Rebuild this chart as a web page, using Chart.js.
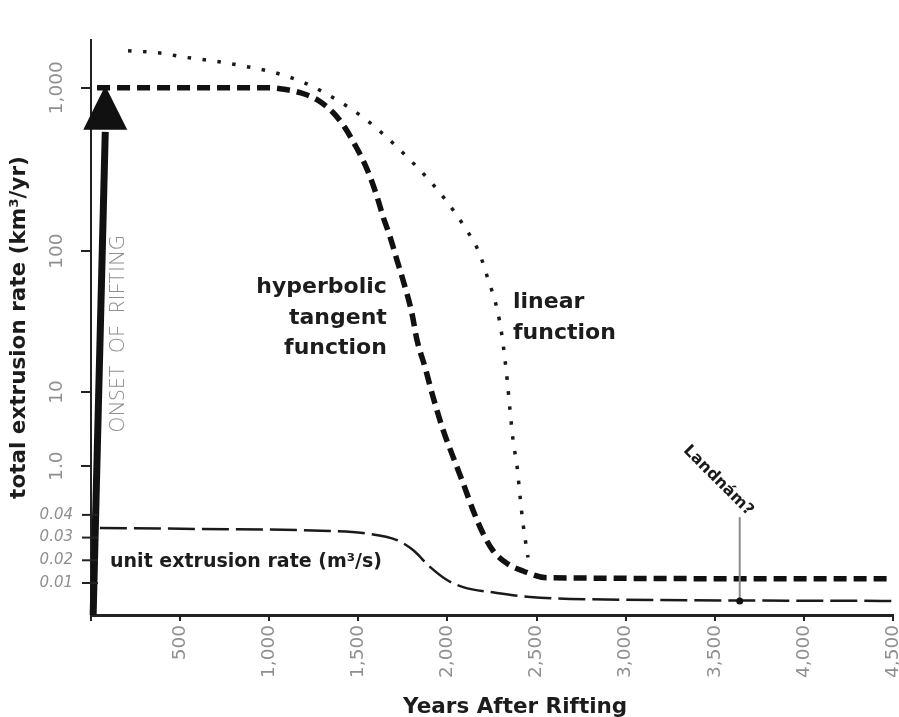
<!DOCTYPE html>
<html>
<head>
<meta charset="utf-8">
<title>Extrusion rate after rifting</title>
<script src="https://cdn.jsdelivr.net/npm/chart.js@4.4.1/dist/chart.umd.min.js"></script>
<style>
  body { margin: 0; background: #fff; }
  canvas { display: block; }
</style>
</head>
<body>
<canvas id="riftChart" width="899" height="717"></canvas>
<script>
// Tasa de extrusion despues del rifting - valores leidos de la figura
// curva tangente hiperbolica (km3/yr)
const hyperYears = [34, 1000, 1061, 1173, 1268, 1358, 1425, 1482, 1526, 1566, 1605, 1639, 1678, 1717, 1751, 1801, 1829, 1874, 1919, 1975, 2032, 2088, 2144, 2200, 2256, 2335, 2424, 2559, 4500];
const hyperRates = [1000, 1000, 986, 932, 845, 705, 570, 445, 360, 285, 215, 162, 122, 86, 62, 36, 23.4, 15, 8.6, 3.1, 1.32, 0.59, 0.254, 0.124, 0.073, 0.049, 0.039, 0.0316, 0.0306];
// funcion lineal (km3/yr)
const linearYears = [208, 376, 539, 707, 864, 1021, 1184, 1257, 1397, 1538, 1661, 1779, 1891, 1998, 2093, 2177, 2228, 2278, 2307, 2335, 2351, 2368, 2391, 2408, 2424, 2452];
const linearRates = [1710, 1660, 1550, 1465, 1365, 1255, 1090, 1000, 820, 645, 495, 372, 277, 200, 142, 98, 63, 39, 24.5, 12.2, 5.7, 2.24, 0.97, 0.38, 0.17, 0.059];
// tasa unitaria (m3/s)
const unitYears = [50, 612, 1341, 1526, 1717, 1807, 1902, 1998, 2088, 2278, 2464, 2688, 4500];
const unitRates = [0.0342, 0.0338, 0.0329, 0.0320, 0.0289, 0.0245, 0.0171, 0.0113, 0.0082, 0.0056, 0.0038, 0.0030, 0.0021];

// ejes
const rateTicks = [1, 10, 100, 1000];
const rateTickLabels = ['1.0', '10', '100', '1,000'];
const unitTicks = [0.04, 0.03, 0.02, 0.01];
const unitTickLabels = ['0.04', '0.03', '0.02', '0.01'];

// anotaciones
const onsetYears = [12, 80];       // base y punta de la flecha
const onsetRates = [552, 1000];    // base de la cabeza y punta
const landnamYear = 3640;
const landnamUnit = [0.039, 0.0021];

const boldFont = '"DejaVu Sans", sans-serif';
const tickFont = '"DejaVu Sans", sans-serif';
const lightFont = '"Open Sans", sans-serif';
const grayText = '#8f8f8f';
const darkText = '#1c1c1c';

// escala logaritmica por tramos (el eje original no es uniforme)
class SegmentLogScale extends Chart.LinearScale {
  static id = 'segmentlog';
  determineDataLimits() {
    this.min = this.options.min;
    this.max = this.options.max;
  }
  buildTicks() {
    return this.options.tickValues.map(v => ({ value: v }));
  }
  decimalFor(value) {
    const logs = this.options.anchorLogs;
    const decs = this.options.anchorDecimals;
    const l = Math.log10(Math.max(value, 1e-9));
    let i = 0;
    while (i < logs.length - 2 && l > logs[i + 1]) i++;
    const t = (l - logs[i]) / (logs[i + 1] - logs[i]);
    return decs[i] + t * (decs[i + 1] - decs[i]);
  }
  getPixelForValue(value) {
    if (value === null || value === undefined || isNaN(value)) return NaN;
    return this.getPixelForDecimal(this.decimalFor(value));
  }
  getValueForPixel(pixel) {
    const d = this.getDecimalForPixel(pixel);
    const logs = this.options.anchorLogs;
    const decs = this.options.anchorDecimals;
    let i = 0;
    while (i < decs.length - 2 && d > decs[i + 1]) i++;
    const t = (d - decs[i]) / (decs[i + 1] - decs[i]);
    return Math.pow(10, logs[i] + t * (logs[i + 1] - logs[i]));
  }
}
Chart.register(SegmentLogScale);

function toPoints(xs, ys) {
  return xs.map((x, i) => ({ x: x, y: ys[i] }));
}

const annotations = {
  id: 'annotations',
  afterDatasetsDraw(chart) {
    const { ctx, chartArea, scales } = chart;
    const x = scales.x, y = scales.y, y2 = scales.y2;
    ctx.save();

    // flecha "onset of rifting"
    const baseX = x.getPixelForValue(onsetYears[0]);
    const tipX = x.getPixelForValue(onsetYears[1]);
    const headY = y.getPixelForValue(onsetRates[0]);
    const tipY = y.getPixelForValue(onsetRates[1]);
    ctx.strokeStyle = '#111';
    ctx.lineWidth = 7;
    ctx.beginPath();
    ctx.moveTo(baseX, chartArea.bottom);
    ctx.lineTo(tipX, headY + 2);
    ctx.stroke();
    ctx.fillStyle = '#111';
    ctx.beginPath();
    ctx.moveTo(tipX, tipY - 2);
    ctx.lineTo(tipX - 22, headY);
    ctx.lineTo(tipX + 22, headY);
    ctx.closePath();
    ctx.fill();

    // ONSET OF RIFTING
    ctx.save();
    ctx.translate(x.getPixelForValue(152), y.getPixelForValue(26));
    ctx.rotate(-Math.PI / 2);
    ctx.fillStyle = grayText;
    ctx.font = '300 20px ' + lightFont;
    ctx.letterSpacing = '1px';
    ctx.textAlign = 'center';
    ctx.textBaseline = 'middle';
    ctx.fillText('ONSET  OF  RIFTING', 0, 0);
    ctx.restore();

    // Landnam
    const lx = x.getPixelForValue(landnamYear);
    const lTop = y2.getPixelForValue(landnamUnit[0]);
    const lBot = y2.getPixelForValue(landnamUnit[1]);
    ctx.strokeStyle = '#8c8c8c';
    ctx.lineWidth = 2;
    ctx.beginPath();
    ctx.moveTo(lx, lTop);
    ctx.lineTo(lx, lBot);
    ctx.stroke();
    ctx.fillStyle = '#111';
    ctx.beginPath();
    ctx.arc(lx, lBot, 3.5, 0, Math.PI * 2);
    ctx.fill();
    ctx.save();
    ctx.translate(lx + 11, lTop - 4);
    ctx.rotate(Math.PI / 4);
    ctx.font = 'bold 16px ' + boldFont;
    ctx.fillStyle = darkText;
    ctx.textAlign = 'right';
    ctx.textBaseline = 'middle';
    ctx.fillText('Landnám?', 0, 0);
    ctx.restore();

    // etiquetas de las curvas
    ctx.font = 'bold 22px ' + boldFont;
    ctx.fillStyle = darkText;
    ctx.textBaseline = 'middle';
    ctx.textAlign = 'right';
    const hx = x.getPixelForValue(1660), hy = y.getPixelForValue(55);
    ['hyperbolic', 'tangent', 'function'].forEach((t, i) => ctx.fillText(t, hx, hy + i * 30.5));
    ctx.textAlign = 'left';
    const fx = x.getPixelForValue(2368), fy = y.getPixelForValue(43.5);
    ['linear', 'function'].forEach((t, i) => ctx.fillText(t, fx, fy + i * 31));
    ctx.font = 'bold 19px ' + boldFont;
    ctx.fillText('unit extrusion rate (m³/s)', x.getPixelForValue(107), y2.getPixelForValue(0.0193));
    ctx.restore();
  },
  afterDraw(chart) {
    const { ctx, chartArea, scales } = chart;
    const x = scales.x, y = scales.y, y2 = scales.y2;
    ctx.save();
    // etiquetas giradas del eje principal
    ctx.fillStyle = grayText;
    ctx.font = '18.5px ' + tickFont;
    ctx.textAlign = 'center';
    ctx.textBaseline = 'middle';
    rateTicks.forEach((v, i) => {
      ctx.save();
      ctx.translate(chartArea.left - 34, y.getPixelForValue(v));
      ctx.rotate(-Math.PI / 2);
      ctx.fillText(rateTickLabels[i], 0, 0);
      ctx.restore();
    });
    // eje de la tasa unitaria
    ctx.strokeStyle = '#222';
    ctx.lineWidth = 2;
    ctx.font = 'italic 15px ' + tickFont;
    ctx.textAlign = 'right';
    unitTicks.forEach((v, i) => {
      const py = y2.getPixelForValue(v);
      ctx.beginPath();
      ctx.moveTo(chartArea.left - 9, py);
      ctx.lineTo(chartArea.left + 7, py);
      ctx.stroke();
      ctx.fillText(unitTickLabels[i], chartArea.left - 18, py);
    });
    // titulo del eje x
    ctx.fillStyle = darkText;
    ctx.font = 'bold 21.5px ' + boldFont;
    ctx.textAlign = 'center';
    ctx.textBaseline = 'alphabetic';
    ctx.fillText('Years After Rifting', x.getPixelForValue(2380), chart.height - 4);
    ctx.restore();
  }
};

const ctx = document.getElementById('riftChart');
const riftChart = new Chart(ctx, {
  type: 'line',
  data: {
    datasets: [{
      label: 'unit extrusion rate (m³/s)',
      data: toPoints(unitYears, unitRates),
      yAxisID: 'y2',
      borderColor: '#1a1a1a',
      borderWidth: 2.5,
      borderDash: [27, 7],
      pointRadius: 0,
      cubicInterpolationMode: 'monotone'
    }, {
      label: 'linear function',
      data: toPoints(linearYears, linearRates),
      yAxisID: 'y',
      borderColor: '#1a1a1a',
      borderWidth: 3.5,
      borderDash: [3.5, 11.5],
      pointRadius: 0,
      cubicInterpolationMode: 'monotone'
    }, {
      label: 'hyperbolic tangent function',
      data: toPoints(hyperYears, hyperRates),
      yAxisID: 'y',
      borderColor: '#111',
      borderWidth: 5.5,
      borderDash: [13, 7],
      pointRadius: 0,
      cubicInterpolationMode: 'monotone'
    }]
  },
  options: {
    responsive: false,
    animation: false,
    layout: { padding: { top: 40, right: 0 } },
    plugins: {
      legend: { display: false },
      tooltip: { enabled: false }
    },
    scales: {
      x: {
        type: 'linear',
        min: 0,
        max: 4500,
        afterFit: (scale) => { scale.height = 102; scale.paddingRight = 6; },
        border: { color: '#222', width: 3 },
        grid: { drawOnChartArea: false, color: '#222', lineWidth: 2, tickLength: 6 },
        ticks: {
          stepSize: 500,
          autoSkip: false,
          minRotation: 90,
          maxRotation: 90,
          padding: 4,
          color: grayText,
          font: { family: tickFont, size: 18.5 },
          callback: (v) => v === 0 ? '' : v.toLocaleString('en-US')
        }
      },
      y: {
        type: 'segmentlog',
        min: 0.01,
        max: 2000,
        tickValues: rateTicks,
        anchorLogs: [-2, 0, 1, 2, 3, 3.301],
        anchorDecimals: [0, 0.259, 0.388, 0.633, 0.917, 1],
        afterFit: (scale) => { scale.width = 91; },
        border: { color: '#222', width: 2 },
        grid: { drawOnChartArea: false, color: '#222', lineWidth: 2, tickLength: 10 },
        ticks: { display: false },
        title: {
          display: true,
          text: 'total extrusion rate (km³/yr)',
          color: darkText,
          font: { family: boldFont, size: 21.5, weight: 'bold' },
          padding: { top: 7, bottom: 0 }
        }
      },
      y2: {
        type: 'linear',
        display: false,
        min: -0.0041,
        max: 0.2492
      }
    }
  },
  plugins: [annotations]
});
</script>
</body>
</html>
